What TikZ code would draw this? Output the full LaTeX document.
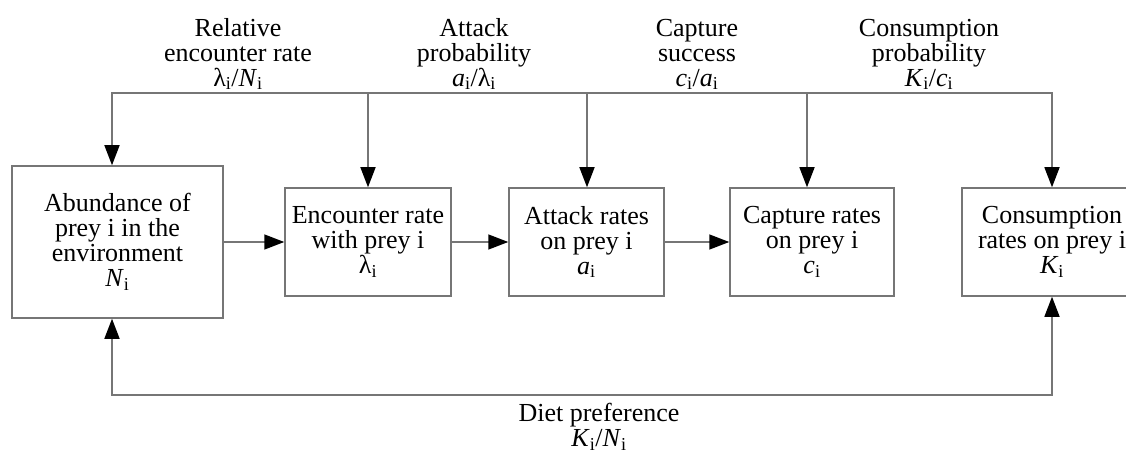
\documentclass[tikz,border=0pt]{standalone}
\usepackage{fontspec}
\setmainfont{Liberation Serif}
\usetikzlibrary{arrows.meta}
\definecolor{lc}{RGB}{118,118,118}
\newcommand{\sbi}{\textsubscript{i}}
\tikzset{
  box/.style={draw=lc, line width=1.5pt, align=center, inner sep=0pt,
    font=\fontsize{26}{25}\selectfont},
  lbl/.style={align=center, inner sep=0pt, font=\fontsize{26}{25}\selectfont},
  arr/.style={draw=lc, line width=1.5pt,
    -{Triangle[length=20pt,width=15pt,color=black,fill=black]}},
  ln/.style={draw=lc, line width=1.5pt},
}
\begin{document}
\begin{tikzpicture}[x=1pt,y=-1pt]
\clip (0,0) rectangle (1126,454);
% boxes
\node[box, minimum width=211pt, minimum height=152pt] (ab) at (117.5,242)
  {Abundance of\\prey i in the\\environment\\\textit{N}\sbi};
\node[box, minimum width=166pt, minimum height=108pt] (enc) at (368,242)
  {Encounter rate\\with prey i\\λ\sbi};
\node[box, minimum width=155pt, minimum height=108pt] (att) at (586.5,242)
  {Attack rates\\on prey i\\\textit{a}\sbi};
\node[box, minimum width=164pt, minimum height=108pt] (cap) at (812,242)
  {Capture rates\\on prey i\\\textit{c}\sbi};
\node[box, minimum width=180pt, minimum height=108pt] (con) at (1052,242)
  {Consumption\\rates on prey i\\\textit{K}\sbi};
% horizontal arrows
\draw[arr] (ab) -- (enc);
\draw[arr] (enc) -- (att);
\draw[arr] (att) -- (cap);
% top distribution line
\coordinate (t1) at (112,93);
\coordinate (t2) at (368,93);
\coordinate (t3) at (587,93);
\coordinate (t4) at (807,93);
\coordinate (t5) at (1052,93);
\draw[arr] (t5) -- (t1) -- (t1 |- ab.north);
\draw[arr] (t2) -- (t2 |- enc.north);
\draw[arr] (t3) -- (t3 |- att.north);
\draw[arr] (t4) -- (t4 |- cap.north);
\draw[arr] (t1) -- (t5) -- (t5 |- con.north);
% bottom feedback line
\coordinate (b1) at (112,395);
\coordinate (b5) at (1052,395);
\draw[arr] (b5) -- (b1) -- (b1 |- ab.south);
\draw[arr] (b1) -- (b5) -- (b5 |- con.south);
% labels
\node[lbl, anchor=south] (l1) at (238,90)
  {Relative\\encounter rate\\λ\sbi/\textit{N}\sbi};
\node[lbl, anchor=south] (l2) at (474,90)
  {Attack\\probability\\\textit{a}\sbi/λ\sbi};
\node[lbl, anchor=south] (l3) at (697,90)
  {Capture\\success\\\textit{c}\sbi/\textit{a}\sbi};
\node[lbl, anchor=south] (l4) at (929,90)
  {Consumption\\probability\\\textit{K}\sbi/\textit{c}\sbi};
\node[lbl, anchor=north] (l5) at (599,403)
  {Diet preference\\\textit{K}\sbi/\textit{N}\sbi};
\end{tikzpicture}
\end{document}
